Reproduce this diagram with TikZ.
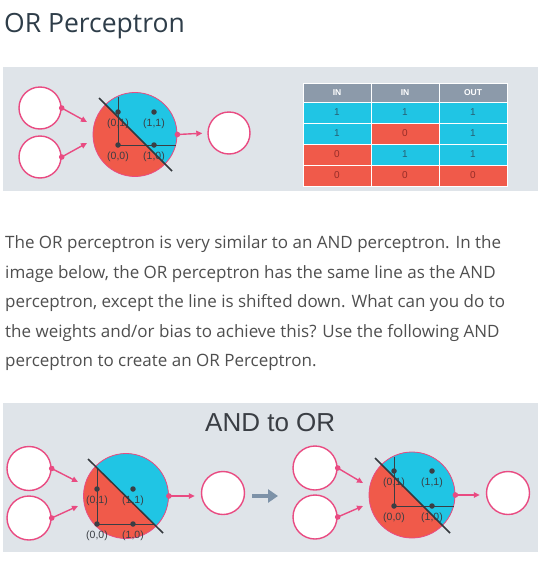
\documentclass[tikz,border=0pt]{standalone}
\usepackage{fontspec}
\setmainfont{Open Sans}
\newfontfamily\helv{Liberation Sans}
\usetikzlibrary{arrows.meta,positioning}
\definecolor{panelc}{RGB}{223,228,233}
\definecolor{cyanc}{RGB}{32,197,228}
\definecolor{redc}{RGB}{240,90,74}
\definecolor{pinkc}{RGB}{233,75,130}
\definecolor{darkc}{RGB}{58,62,68}
\definecolor{headc}{RGB}{140,154,170}
\definecolor{grayarrow}{RGB}{125,146,168}
\definecolor{titlec}{RGB}{46,61,73}
\definecolor{bodyc}{RGB}{79,79,79}
\definecolor{cyantext}{RGB}{40,95,115}
\definecolor{redtext}{RGB}{150,45,40}

\begin{document}
\begin{tikzpicture}[x=1pt,y=-1pt,
  unit/.style={circle, draw=pinkc, line width=1.4pt, fill=white, minimum size=42pt, inner sep=0pt},
  body/.style={circle, draw=pinkc, line width=0.8pt, minimum size=84pt, inner sep=0pt},
  conn/.style={draw=pinkc, line width=1.4pt, -{Triangle[length=6pt,width=5.5pt]}},
  dot/.style={fill=pinkc},
  pt/.style={circle, fill=darkc, inner sep=0pt, minimum size=5.5pt},
  lbl/.style={font=\helv\fontsize{10.5}{12}\selectfont, text=darkc, inner sep=0pt},
  axis/.style={draw=darkc, line width=0.9pt},
  sep/.style={draw=darkc!90!black, line width=1.5pt},
  head/.style={rectangle, fill=headc, draw=white, line width=0.6pt, minimum width=68pt, minimum height=19pt, inner sep=0pt, text=white, font=\helv\bfseries\fontsize{8.5}{10}\selectfont},
  one/.style={rectangle, fill=cyanc, draw=white, line width=0.6pt, minimum width=68pt, minimum height=21pt, inner sep=0pt, text=cyantext, font=\helv\fontsize{10}{12}\selectfont},
  zero/.style={one, fill=redc, text=redtext},
  para/.style={anchor=base west, inner sep=0pt, text=bodyc, font=\fontsize{17}{20}\selectfont}]
\useasboundingbox (0,0) rectangle (548,565);
\fill[white] (0,0) rectangle (548,565);

\node[anchor=base west, inner sep=0pt, text=titlec, font=\fontsize{26.5}{30}\selectfont] (title) at (4,32) {OR Perceptron};

\fill[panelc] (3,67) rectangle (538,191);
\fill[panelc] (3,403) rectangle (538,552);

\begin{scope}[shift={(135,134.5)}]
\fill[redc] (0,0) circle (42);
\begin{scope}
\clip (0,0) circle (42);
\fill[cyanc] (-61,-61.8) -- (61,61.8) -- (61,-61.8) -- cycle;
\end{scope}
\node[body] (cell) at (0,0) {};
\draw[axis] (-17,-38) -- (-17,10.5) -- (41,10.5);
\node[pt] (p01) at (-17,-22.5) {};
\node[pt] (p11) at (19,-22.5) {};
\node[pt] (p00) at (-17,10.5) {};
\node[pt] (p10) at (19,10.5) {};
\node[lbl, below=3.5pt of p01] (l01) {(0,1)};
\node[lbl, below=3.5pt of p11] (l11) {(1,1)};
\node[lbl, below=3.5pt of p00] (l00) {(0,0)};
\node[lbl, below=3.5pt of p10] (l10) {(1,0)};
\draw[sep] (-36,-36.5) -- (37,36.5);
\node[unit] (in1) at (-95,-26.5) {};
\node[unit] (in2) at (-95,22.5) {};
\node[unit] (out) at (94,-1.5) {};
\coordinate (e1) at (-48,-12.5);
\coordinate (e2) at (-48,8.5);
\draw[conn] (in1.east) -- (e1);
\draw[conn] (in2.east) -- (e2);
\draw[conn, shorten >=5pt] (cell.east) -- (out.west);
\fill[dot] (in1.east) circle (2.8);
\fill[dot] (in2.east) circle (2.8);
\fill[dot] (cell.east) circle (2.8);
\end{scope}

\node[head] (h1) at (337,92.5) {IN};
\node[head] (h2) at (405,92.5) {IN};
\node[head] (h3) at (473,92.5) {OUT};
\node[one] (a1) at (337,112.5) {1};
\node[one] (a2) at (405,112.5) {1};
\node[one] (a3) at (473,112.5) {1};
\node[one] (b1) at (337,133.5) {1};
\node[zero] (b2) at (405,133.5) {0};
\node[one] (b3) at (473,133.5) {1};
\node[zero] (c1) at (337,154.5) {0};
\node[one] (c2) at (405,154.5) {1};
\node[one] (c3) at (473,154.5) {1};
\node[zero] (d1) at (337,175.5) {0};
\node[zero] (d2) at (405,175.5) {0};
\node[zero] (d3) at (473,175.5) {0};

\node[para] (t1) at (5,248) {The OR perceptron is very similar to an AND perceptron. In the};
\node[para] (t2) at (5,278) {image below, the OR perceptron has the same line as the AND};
\node[para] (t3) at (5,307) {perceptron, except the line is shifted down. What can you do to};
\node[para] (t4) at (5,337) {the weights and/or bias to achieve this? Use the following AND};
\node[para] (t5) at (5,366) {perceptron to create an OR Perceptron.};

\node[anchor=base west, inner sep=0pt, text=darkc, font=\helv\fontsize{26}{30}\selectfont] (andor) at (205,431) {AND to OR};

\begin{scope}[shift={(126,496)}]
\fill[redc] (0,0) circle (42.5);
\begin{scope}
\clip (0,0) circle (42.5);
\fill[cyanc] (-62,-60.4) -- (62,61.6) -- (62,-60.4) -- cycle;
\end{scope}
\node[body, minimum size=85pt] (acell) at (0,0) {};
\draw[axis] (-29,-28) -- (-29,28) -- (29,28);
\node[pt] (ap01) at (-29,-7) {};
\node[pt] (ap11) at (7,-7) {};
\node[pt] (ap00) at (-29,28) {};
\node[pt] (ap10) at (7,28) {};
\node[lbl, below=4pt of ap01] (al01) {(0,1)};
\node[lbl, below=4pt of ap11] (al11) {(1,1)};
\node[lbl, below=4pt of ap00] (al00) {(0,0)};
\node[lbl, below=4pt of ap10] (al10) {(1,0)};
\draw[sep] (-38,-37) -- (37,37);
\node[unit, minimum size=44pt] (ain1) at (-97,-27.5) {};
\node[unit, minimum size=44pt] (ain2) at (-97,22) {};
\node[unit, minimum size=43pt] (aout) at (97,-3) {};
\coordinate (ae1) at (-48,-14);
\coordinate (ae2) at (-48,10);
\draw[conn] (ain1.east) -- (ae1);
\draw[conn] (ain2.east) -- (ae2);
\draw[conn, shorten >=6pt] (acell.east) -- (acell.east -| aout.west);
\fill[dot] (ain1.east) circle (2.8);
\fill[dot] (ain2.east) circle (2.8);
\fill[dot] (acell.east) circle (2.8);
\end{scope}

\coordinate (go) at (278,496);
\draw[grayarrow, line width=4pt, -{Triangle[length=10pt,width=13pt]}] ([xshift=7pt,yshift=-3pt]aout.east) -- (go);

\begin{scope}[shift={(412,495)}]
\fill[redc] (0,0) circle (43);
\begin{scope}
\clip (0,0) circle (43);
\fill[cyanc] (-61,-61) -- (62,62) -- (62,-61) -- cycle;
\end{scope}
\node[body, minimum size=86pt] (ocell) at (0,0) {};
\draw[axis] (-18,-38) -- (-18,11) -- (42,11);
\node[pt] (op01) at (-18,-24) {};
\node[pt] (op11) at (20,-24) {};
\node[pt] (op00) at (-18,11) {};
\node[pt] (op10) at (20,11) {};
\node[lbl, below=3.5pt of op01] (ol01) {(0,1)};
\node[lbl, below=3.5pt of op11] (ol11) {(1,1)};
\node[lbl, below=3.5pt of op00] (ol00) {(0,0)};
\node[lbl, below=3.5pt of op10] (ol10) {(1,0)};
\draw[sep] (-37,-37) -- (38,38);
\node[unit, minimum size=44pt] (oin1) at (-97,-27) {};
\node[unit, minimum size=44pt] (oin2) at (-97,22) {};
\node[unit, minimum size=43pt] (oout) at (96,-2) {};
\coordinate (oe1) at (-49,-12);
\coordinate (oe2) at (-49,11);
\draw[conn] (oin1.east) -- (oe1);
\draw[conn] (oin2.east) -- (oe2);
\draw[conn, shorten >=6pt] (ocell.east) -- (ocell.east -| oout.west);
\fill[dot] (oin1.east) circle (2.8);
\fill[dot] (oin2.east) circle (2.8);
\fill[dot] (ocell.east) circle (2.8);
\end{scope}
\end{tikzpicture}
\end{document}
